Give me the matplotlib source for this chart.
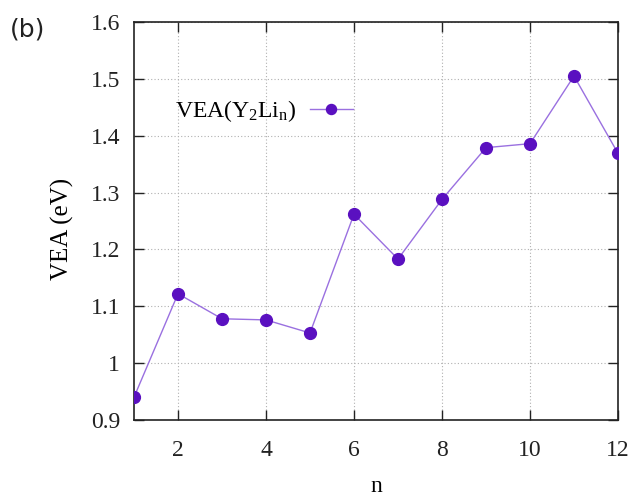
import matplotlib
matplotlib.use("Agg")
import matplotlib.pyplot as plt

n = [1, 2, 3, 4, 5, 6, 7, 8, 9, 10, 11, 12]
vea = [0.940, 1.122, 1.078, 1.076, 1.053, 1.262, 1.183, 1.288, 1.379, 1.386, 1.505, 1.369]
xticks = [2, 4, 6, 8, 10, 12]
yticks = [0.9, 1.0, 1.1, 1.2, 1.3, 1.4, 1.5, 1.6]
ytick_labels = ["0.9", "1", "1.1", "1.2", "1.3", "1.4", "1.5", "1.6"]

plt.rcParams['font.family'] = ['Liberation Serif', 'DejaVu Serif']
plt.rcParams['mathtext.fontset'] = 'custom'
plt.rcParams['mathtext.rm'] = 'Liberation Serif'
plt.rcParams['mathtext.it'] = 'Liberation Serif'

fig = plt.figure(figsize=(6.36, 4.97), dpi=100)
ax = fig.add_axes([0.2107, 0.155, 0.7610, 0.8007])

line, = ax.plot(n, vea, color='#9a70e0', lw=1.0, marker='o', ms=8.5,
                markerfacecolor='#5a10c0', markeredgecolor='#5a10c0',
                label=r'VEA(Y$_\mathregular{2}$Li$_\mathregular{n}$)', zorder=3)

ax.set_xlim(1, 12)
ax.set_ylim(0.9, 1.6)
ax.set_xticks(xticks)
ax.set_yticks(yticks)
ax.set_yticklabels(ytick_labels)
ax.tick_params(direction='in', length=7, width=1, top=True, right=True,
               labelsize=17, pad=10, colors='#222222')
ax.tick_params(axis='x', pad=14.5)
ax.grid(True, linestyle=(0, (1, 2)), color='#b0b0b0', lw=0.8)
for s in ax.spines.values():
    s.set_linewidth(1.2)
    s.set_color('#222222')

ax.set_xlabel('n', fontsize=17, labelpad=11)
ax.set_ylabel('VEA (eV)', fontsize=18, labelpad=10)
ax.yaxis.set_label_coords(-0.125, 0.48)

leg = ax.legend(loc='upper left', bbox_to_anchor=(0.04, 0.862), frameon=False,
                markerfirst=False, fontsize=17, handlelength=1.8,
                handletextpad=0.6, markerscale=0.85)

fig.text(0.015, 0.965, '(b)', fontsize=18, family='DejaVu Sans', va='top',
         color='#222222')

fig.savefig('out.png', dpi=100)
